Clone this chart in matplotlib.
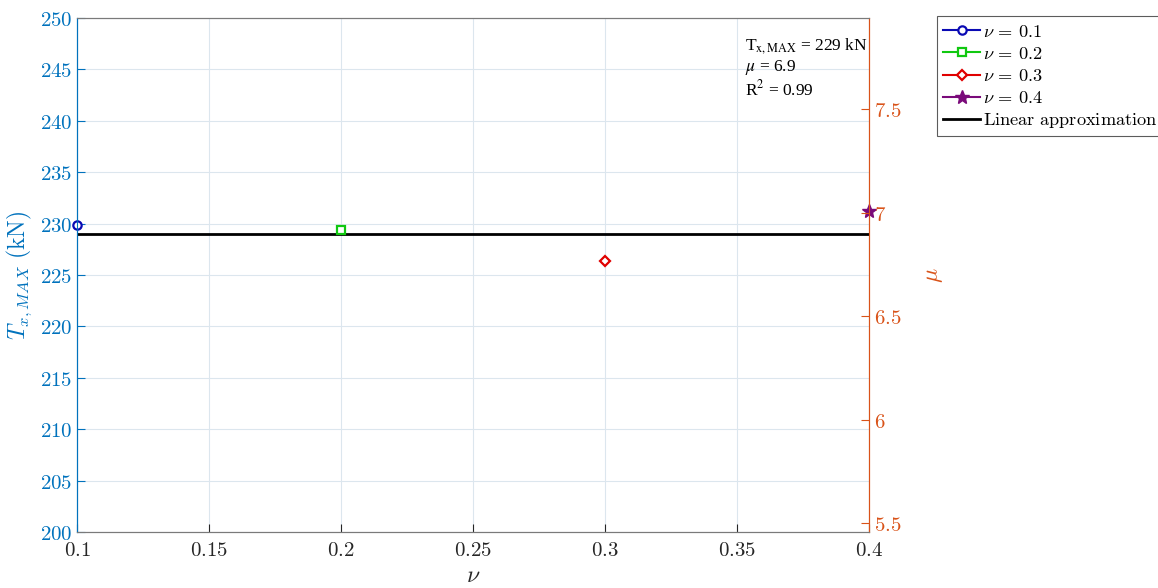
import matplotlib
matplotlib.use('Agg')
import matplotlib.pyplot as plt
from matplotlib.ticker import FuncFormatter

plt.rcParams['mathtext.fontset'] = 'cm'

# data
nu_values = [0.1, 0.2, 0.3, 0.4]
t_max = [229.9, 229.4, 226.4, 231.2]
t_fit = 229.0
series_labels = [r'$\nu\,=\,0.1$', r'$\nu\,=\,0.2$', r'$\nu\,=\,0.3$', r'$\nu\,=\,0.4$']
series_colors = ['#0A0AB4', '#10C810', '#E00000', '#7A0A7A']
series_markers = ['o', 's', 'D', '*']

blue = '#0072BD'
orange = '#D95319'

fig = plt.figure(figsize=(11.58, 5.88), dpi=100)
ax = fig.add_axes([0.0665, 0.0952, 0.684, 0.8742])
ax2 = ax.twinx()

handles = []
for x, y, lab, c, m in zip(nu_values, t_max, series_labels, series_colors, series_markers):
    if m == '*':
        h, = ax.plot([x], [y], marker=m, color=c, markersize=10, linestyle='-',
                     linewidth=1.5, label=lab, clip_on=False, zorder=5)
    else:
        size = 5.5 if m == 'D' else 6
        h, = ax.plot([x], [y], marker=m, color=c, markersize=size, markerfacecolor='white',
                     markeredgewidth=1.6, linestyle='-', linewidth=1.5, label=lab,
                     clip_on=False, zorder=5)
    handles.append(h)

h_lin, = ax.plot([nu_values[0], nu_values[-1]], [t_fit, t_fit], color='black', linewidth=2,
                 label=r'$\mathrm{Linear\ approximation}$', zorder=4)
handles.append(h_lin)

ax.set_xlim(0.1, 0.4)
ax.set_ylim(200, 250)
ax.set_xticks([0.1, 0.15, 0.2, 0.25, 0.3, 0.35, 0.4])
ax.set_yticks(range(200, 251, 5))
ax2.set_ylim(5.457, 7.94)
ax2.set_yticks([5.5, 6, 6.5, 7, 7.5])

fmt = FuncFormatter(lambda v, p: '$%g$' % round(v, 3))
ax.xaxis.set_major_formatter(fmt)
ax.yaxis.set_major_formatter(fmt)
ax2.yaxis.set_major_formatter(fmt)

ax.grid(True, color='#DCE6EE', linewidth=0.8)
ax.tick_params(axis='x', direction='in', colors='#262626', labelsize=15, length=6, pad=6)
ax.tick_params(axis='y', direction='in', colors=blue, labelsize=15, length=6)
ax2.tick_params(axis='y', direction='in', colors=orange, labelsize=15, length=6)

for a in (ax, ax2):
    a.spines['top'].set_color('#7A7A7A')
    a.spines['bottom'].set_color('#7A7A7A')
    a.spines['left'].set_color(blue)
    a.spines['right'].set_color(orange)

ax.set_xlabel(r'$\nu$', fontsize=17, color='#262626', labelpad=2)
ax.set_ylabel(r'$T_{x,MAX}\ \mathrm{(kN)}$', fontsize=17, color=blue, labelpad=4)
ax2.set_ylabel(r'$\mu$', fontsize=17, color=orange, labelpad=14)

# fit summary box
ax.text(0.843, 0.965, 'T$_{\\rm x,MAX}$ = 229 kN\n$\\mu$ = 6.9\nR$^2$ = 0.99',
        transform=ax.transAxes, fontsize=12.5, family='Liberation Serif', va='top',
        linespacing=1.15, math_fontfamily='stix')

leg = fig.legend(handles=handles, loc='upper left', bbox_to_anchor=(0.809, 0.972),
                 fontsize=13.2, frameon=True, fancybox=False, edgecolor='#333333',
                 handlelength=2.0, handletextpad=0.15, borderpad=0.35, labelspacing=0.22,
                 borderaxespad=0)
leg.get_frame().set_linewidth(0.8)

plt.savefig('out.png', dpi=100)
